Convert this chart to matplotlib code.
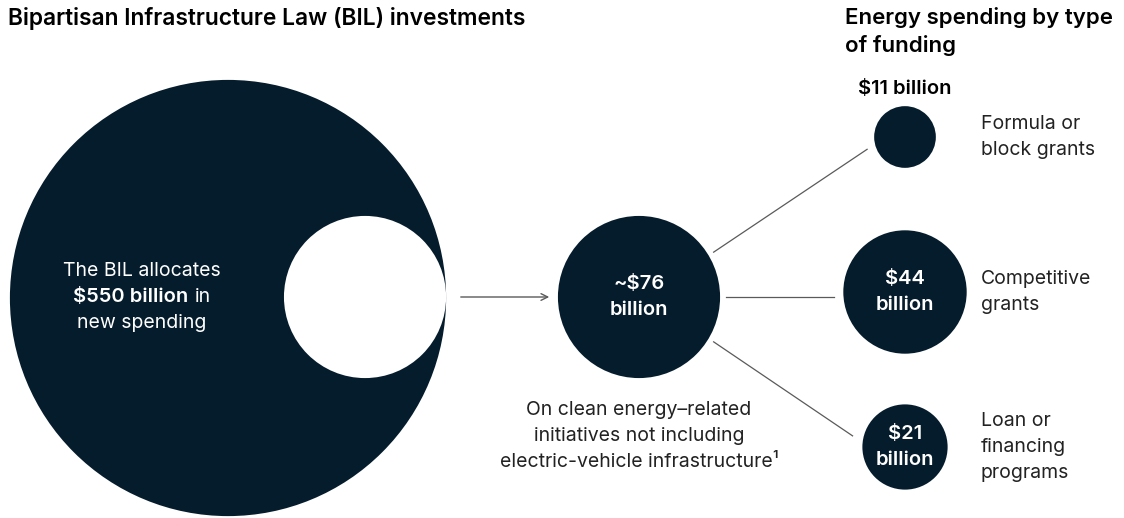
import numpy as np
import matplotlib.pyplot as plt
from matplotlib.patches import Circle

plt.rcParams['font.family'] = ['Inter', 'DejaVu Sans']

navy = '#051c2c'
grey = '#5a5a5a'
body = '#222222'

# spending in billions of dollars
total = 550
clean_energy = 76
funding_types = ['Formula or\nblock grants', 'Competitive\ngrants', 'Loan or\nfinancing\nprograms']
funding_values = [11, 44, 21]
funding_labels = ['$11 billion', '$44\nbillion', '$21\nbillion']

W, H = 1124, 518
fig = plt.figure(figsize=(W / 100, H / 100), dpi=100)
ax = fig.add_axes([0, 0, 1, 1])
ax.set_xlim(0, W)
ax.set_ylim(H, 0)
ax.set_aspect('equal')
ax.axis('off')

k = 9.3  # radius per sqrt(billion)


def radius(v):
    return k * np.sqrt(v)


def lines(x, yc, text, step=26, **kw):
    rows = text.split('\n')
    y0 = yc - step * (len(rows) - 1) / 2
    for i, row in enumerate(rows):
        ax.text(x, y0 + i * step, row, va='center', **kw)


fs = 14
fs_bold = 14.5

# total BIL circle with the clean-energy share cut out at its right edge
big_x, big_y = 228, 298
R = radius(total)
r_clean = radius(clean_energy)
ax.add_patch(Circle((big_x, big_y), R, color=navy, lw=0))
ax.add_patch(Circle((big_x + R - r_clean, big_y - 1), r_clean, color='white', lw=0))

lines(142, 271, 'The BIL allocates', ha='center', color='white', fontsize=fs)
lines(142, 323, 'new spending', ha='center', color='white', fontsize=fs)
fig.canvas.draw()
rend = fig.canvas.get_renderer()
t1 = ax.text(0, 297, '$550 billion', va='center', ha='left', color='white',
             fontsize=fs_bold, fontweight='semibold')
t2 = ax.text(0, 297, 'in', va='center', ha='left', color='white', fontsize=fs)
w1 = t1.get_window_extent(rend).width
w2 = t2.get_window_extent(rend).width
space = 6
x0 = 142 - (w1 + space + w2) / 2
t1.set_x(x0)
t2.set_x(x0 + w1 + space)

# arrow to the clean-energy circle
ax.annotate('', xy=(552, 297), xytext=(458, 297),
            arrowprops=dict(arrowstyle='->', color=grey, lw=1, mutation_scale=12))

mid_x, mid_y = 639, 297
r_mid = radius(clean_energy)
ax.add_patch(Circle((mid_x, mid_y), r_mid, color=navy, lw=0))
lines(mid_x, mid_y, '~$76\nbillion', ha='center', color='white', fontsize=fs_bold,
      fontweight='semibold')
lines(mid_x, 436, 'On clean energy\u2013related\ninitiatives not including\n'
      'electric-vehicle infrastructure\u00b9', ha='center', color=body, fontsize=fs)

# funding-type circles
fx = 905
fy = [137, 292, 447]
start_ang = [-31, 0, 31]
end_ang = [162, 180, 192]
gaps = [9, 9, 11]
for v, y, lab, name, a0, a1, g in zip(funding_values, fy, funding_labels,
                                      funding_types, start_ang, end_ang, gaps):
    r = radius(v)
    ax.add_patch(Circle((fx, y), r, color=navy, lw=0))
    sx = mid_x + (r_mid + 6) * np.cos(np.radians(a0))
    sy = mid_y + (r_mid + 6) * np.sin(np.radians(a0))
    if a1 == 180:
        ex, ey = fx - r - g, mid_y
        sy = mid_y
    else:
        ex = fx + (r + g) * np.cos(np.radians(a1))
        ey = y + (r + g) * np.sin(np.radians(a1))
    ax.plot([sx, ex], [sy, ey], color=grey, lw=0.9)
    if '\n' in lab:
        lines(fx, y, lab, ha='center', color='white', fontsize=fs_bold,
              fontweight='semibold')
    else:
        ax.text(fx, y - r - 17, lab, ha='center', va='center', color='black',
                fontsize=fs_bold, fontweight='semibold')
    lines(981, y, name, ha='left', color=body, fontsize=fs)

ax.text(8, 18, 'Bipartisan Infrastructure Law (BIL) investments', ha='left',
        va='center', fontsize=16.4, fontweight='semibold', color='black')
lines(845, 31.5, 'Energy spending by type\nof funding', step=27, ha='left',
      fontsize=16, fontweight='semibold', color='black')

fig.savefig('out.png', dpi=100)
